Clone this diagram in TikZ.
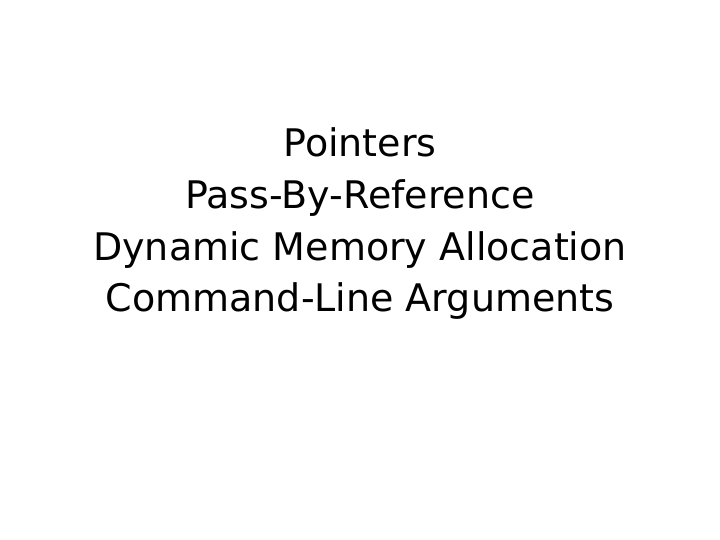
\documentclass[tikz,border=0pt]{standalone}
\usepackage{fontspec}
\setmainfont{DejaVu Sans}
\begin{document}
\begin{tikzpicture}[x=1pt,y=1pt,line/.style={font=\fontsize{38}{46}\selectfont,inner sep=0pt,anchor=base}]
\path[fill=white] (0,0) rectangle (720,540);
\node[line] (l1) at (360,540-157) {Pointers};
\node[line] (l2) at (360,540-209) {Pass-By-Reference};
\node[line] (l3) at (360,540-261) {Dynamic Memory Allocation};
\node[line] (l4) at (360,540-312) {Command-Line Arguments};
\end{tikzpicture}
\end{document}
